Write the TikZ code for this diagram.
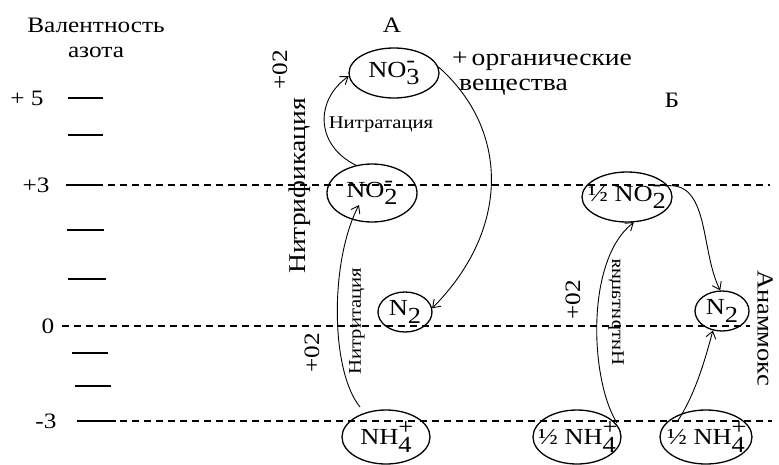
\documentclass[tikz,border=0pt]{standalone}
\usepackage{fontspec}
\setmainfont{Liberation Serif}[FakeStretch=1.15]
\usetikzlibrary{shapes.geometric,arrows.meta,calc}
\newcommand\ionx[3]{#1\rlap{\raisebox{.42em}{#3}}\raisebox{-.32em}{#2}}
\begin{document}
\begin{tikzpicture}[x=1pt,y=-1pt,
  big/.style={font=\fontsize{24}{25}\selectfont, inner sep=0pt},
  mid/.style={font=\fontsize{22}{24}\selectfont, inner sep=0pt},
  small/.style={font=\fontsize{18}{20}\selectfont, inner sep=0pt},
  ell/.style={draw, ellipse, line width=1.3pt, inner sep=0pt},
  etext/.style={font=\fontsize{23}{25}\selectfont, inner sep=0pt},
  tick/.style={line width=1.6pt},
  lvl/.style={line width=1.4pt, dash pattern=on 7pt off 5pt},
  arr/.style={line width=0.9pt, -{Straight Barb[length=7pt,width=10pt]}}]
\path[use as bounding box] (0,0) rectangle (779,464);

% axis labels
\node[font=\fontsize{22}{25}\selectfont, inner sep=0pt, align=center] (title) at (96,38) {Валентность\\азота};
\node[mid] (l5) at (27,98) {+ 5};
\node[mid] (l3) at (36,185) {+3};
\node[mid] (l0) at (48,326) {0};
\node[mid] (lm3) at (46,421) {-3};

% level ticks
\coordinate (t1a) at (68,98);  \coordinate (t1b) at (103,98);
\coordinate (t2a) at (68,135); \coordinate (t2b) at (103,135);
\coordinate (t3a) at (66,185); \coordinate (t3b) at (103,185);
\coordinate (t4a) at (67,230); \coordinate (t4b) at (104,230);
\coordinate (t5a) at (68,279); \coordinate (t5b) at (106,279);
\coordinate (t6a) at (72,353); \coordinate (t6b) at (108,353);
\coordinate (t7a) at (75,386); \coordinate (t7b) at (111,386);
\coordinate (t8a) at (77,421); \coordinate (t8b) at (116,421);
\foreach \i in {1,...,8} \draw[tick] (t\i a) -- (t\i b);

% dashed levels
\coordinate (d3a) at (108,185); \coordinate (d3b) at (770,185);
\coordinate (d0a) at (62,326);  \coordinate (d0b) at (750,326);
\coordinate (dma) at (120,421); \coordinate (dmb) at (772,421);
\draw[lvl] (d3a) -- (d3b);
\draw[lvl] (d0a) -- (d0b);
\draw[lvl] (dma) -- (dmb);

% ---- A ----
\node[mid] (A) at (392,25) {А};
\node[ell, minimum width=90, minimum height=50, label={[etext]center:\ionx{NO}{3}{-}}] (no3A) at (394,73) {};
\node[ell, minimum width=90, minimum height=58, label={[etext]center:\ionx{NO}{2}{-}}] (no2A) at (372,193) {};
\node[ell, minimum width=54, minimum height=40, label={[etext]center:\ionx{N}{2}{}}] (n2A) at (405,312) {};
\node[ell, minimum width=88, minimum height=54, label={[etext]center:\ionx{NH}{4}{+}}] (nh4A) at (386,437) {};

\node[mid, rotate=90] (o2a) at (280,70) {+02};
\node[big, rotate=90] (nitrif) at (300,186) {Нитрификация};
\node[small] (nitrat) at (381,125) {Нитратация};
\node[small, rotate=90] (nitritA) at (357,321) {Нитритация};
\node[mid, rotate=90] (o2b) at (312,353) {+02};
\node[big, align=left, anchor=north west] (org) at (452,52) {+\,органические\\\hspace{7pt}вещества};

\draw[arr] (no2A.120) .. controls (315,145) and (315,100) .. (no3A.184);
\draw[arr] (no3A.8) .. controls (510,130) and (510,230) .. (n2A.8);
\draw[arr] ($(nh4A.center)+(-26,-30)$) .. controls (330,370) and (330,260) .. ($(no2A.center)+(-13,12)$);

% ---- B ----
\node[mid] (B) at (672,100) {Б};
\node[ell, minimum width=90, minimum height=50, label={[etext]center:½ \ionx{NO}{2}{-}}] (no2B) at (627,197) {};
\node[ell, minimum width=54, minimum height=40, label={[etext]center:\ionx{N}{2}{}}] (n2B) at (722,311) {};
\node[ell, minimum width=88, minimum height=54, label={[etext]center:½ \ionx{NH}{4}{+}}] (nh4B1) at (577,437) {};
\node[ell, minimum width=92, minimum height=54, label={[etext]center:½ \ionx{NH}{4}{+}}] (nh4B2) at (706,437) {};

\node[mid, rotate=90] (o2c) at (573,300) {+02};
\node[small, rotate=90] (nitritB) at (616,312) {\scalebox{1}[-1]{Нитритация}};
\node[font=\fontsize{23}{25}\selectfont, inner sep=0pt, rotate=-90] (anam) at (765,328) {Анаммокс};

\draw[arr] ($(nh4B1.center)+(40,-14)$) .. controls (590,380) and (585,260) .. (no2B.285);
\draw[arr] ($(no2B.center)+(38,-11)$) .. controls (710,180) and (700,250) .. (n2B.95);
\draw[arr] ($(nh4B2.center)+(-29,-15)$) .. controls (695,395) and (705,360) .. (n2B.245);
\end{tikzpicture}
\end{document}
